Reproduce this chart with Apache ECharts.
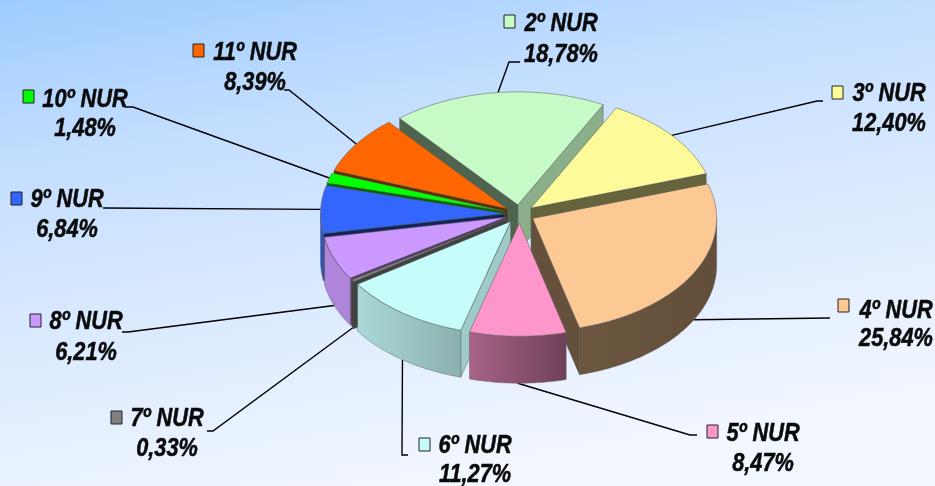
<!DOCTYPE html>
<html>
<head>
<meta charset="utf-8">
<title>NUR</title>
<style>
  html, body { margin: 0; padding: 0; }
  #div_chart { width: 935px; height: 486px; }
</style>
<script src="https://cdn.jsdelivr.net/npm/echarts@6/dist/echarts.min.js"></script>
</head>
<body>
<div id="div_chart"></div>
<script>
"use strict";

// data, clockwise from the first slice
const slice_names = ["2º NUR", "3º NUR", "4º NUR", "5º NUR", "6º NUR", "7º NUR", "8º NUR", "9º NUR", "10º NUR", "11º NUR"];
const slice_values = [18.78, 12.40, 25.84, 8.47, 11.27, 0.33, 6.21, 6.84, 1.48, 8.39];

// colours
const top_colors = ["#C6FAC6", "#FDFB99", "#FCC995", "#FF96CB", "#C6FCFA", "#808080", "#CC99FF", "#3366FF", "#00FF00", "#FF6600"];
const wall_start_shade = [0.4, 0.4, 0.4, 0.4, 0.8, 0.5, 0.4, 0.35, 0.4, 0.4];
const wall_end_shade = [0.7, 0.4, 0.4, 0.4, 0.4, 0.4, 0.4, 0.4, 0.4, 0.4];
const rim_left_shade = [0.7, 0.7, 0.43, 0.66, 0.86, 0.6, 0.86, 0.8, 0.7, 0.7];
const rim_right_shade = [0.7, 0.7, 0.39, 0.43, 0.7, 0.4, 0.86, 0.8, 0.7, 0.7];

// label layout: legend key corner, text centre, text line y, leader elbow
const key_x = [504, 832, 838, 707, 419, 111, 30, 11, 23, 193];
const key_y = [15, 86, 299, 425, 438, 411, 314, 192, 90, 44];
const text_x = [561, 889, 896, 763, 475, 167, 86, 67, 85, 255];
const text_y1 = [24, 94, 311, 434, 446, 419, 322, 200, 100, 53];
const text_y2 = [55, 124, 339, 464, 475, 449, 353, 230, 129, 83];
const elbow_a = [[520, 62], [823, 101], [830, 318], [697, 435], [408, 455], [207, 431], [122, 332], [103, 208], [125, 107], [284, 90]];
const elbow_b = [[509, 62], [817, 101], [830, 318], [690, 435], [402, 455], [213, 431], [128, 332], [103, 208], [133, 107], [289, 90]];

// pie geometry
const pie_cx = 519.5;
const pie_cy = 214;
const pie_rx = 184;
const pie_ry = 113;
const pie_depth = 47;
const pie_explode = 15;
const pie_start = -40; // degrees clockwise from 12 o'clock

const html_div_chart = document.getElementById("div_chart");
const chart = echarts.init(html_div_chart);

function shade(color, f) {
  const n = parseInt(color.slice(1), 16);
  const r = Math.round(((n >> 16) & 255) * f);
  const g = Math.round(((n >> 8) & 255) * f);
  const b = Math.round((n & 255) * f);
  return "rgb(" + r + "," + g + "," + b + ")";
}

const value_sum = slice_values.reduce((a, b) => a + b, 0);
const slices = [];
let angle_now = pie_start;
for (let i = 0; i < slice_values.length; i++) {
  const a0 = angle_now;
  const a1 = a0 + slice_values[i] / value_sum * 360;
  const mid = (a0 + a1) / 2 * Math.PI / 180;
  const k = pie_ry / pie_rx;
  slices.push({
    a0: a0,
    a1: a1,
    mid: (a0 + a1) / 2,
    ox: pie_cx + pie_explode * Math.sin(mid),
    oy: pie_cy - pie_explode * k * Math.cos(mid),
  });
  angle_now = a1;
}

function rim_point(s, deg, drop) {
  const r = deg * Math.PI / 180;
  return [s.ox + pie_rx * Math.sin(r), s.oy - pie_ry * Math.cos(r) + drop];
}

function arc_points(s, from, to, drop) {
  const pts = [];
  const steps = Math.max(2, Math.ceil(Math.abs(to - from)));
  for (let j = 0; j <= steps; j++) {
    pts.push(rim_point(s, from + (to - from) * j / steps, drop));
  }
  return pts;
}

function wall_polygon(s, deg, color) {
  const p = rim_point(s, deg, 0);
  return {
    type: "polygon",
    shape: { points: [[s.ox, s.oy], p, [p[0], p[1] + pie_depth], [s.ox, s.oy + pie_depth]] },
    style: { fill: color, stroke: "#444", lineWidth: 0.4 },
  };
}

// back slices first, so that the front ones paint over them
const draw_order = slices
  .map((s, i) => i)
  .sort((p, q) => Math.cos(slices[q].mid * Math.PI / 180) - Math.cos(slices[p].mid * Math.PI / 180));

function render_slice(params) {
  const i = draw_order[params.dataIndex];
  const s = slices[i];
  const color = top_colors[i];
  const children = [];

  // walls show only when they face the viewer
  const sin0 = Math.sin(s.a0 * Math.PI / 180);
  const sin1 = Math.sin(s.a1 * Math.PI / 180);
  if (sin0 < 0) children.push(wall_polygon(s, s.a0, shade(color, wall_start_shade[i])));
  if (sin1 > 0) children.push(wall_polygon(s, s.a1, shade(color, wall_end_shade[i])));

  const from = Math.max(s.a0, 90);
  const to = Math.min(s.a1, 270);
  if (to > from) {
    const upper = arc_points(s, from, to, 0);
    const lower = arc_points(s, to, from, pie_depth);
    const left = Math.min(...upper.map(p => p[0]));
    const right = Math.max(...upper.map(p => p[0]));
    children.push({
      type: "polygon",
      shape: { points: upper.concat(lower) },
      style: {
        fill: new echarts.graphic.LinearGradient(left, 0, right, 0, [
          { offset: 0, color: shade(color, rim_left_shade[i]) },
          { offset: 1, color: shade(color, rim_right_shade[i]) },
        ], true),
        stroke: "#555",
        lineWidth: 0.4,
      },
    });
  }

  children.push({
    type: "polygon",
    shape: { points: [[s.ox, s.oy]].concat(arc_points(s, s.a0, s.a1, 0)) },
    style: { fill: color, stroke: "#555", lineWidth: 0.5 },
  });
  return { type: "group", children: children };
}

function label_text(x, y, str) {
  return {
    type: "text",
    x: x,
    y: y,
    scaleX: 0.87,
    style: {
      text: str,
      fontFamily: "Liberation Sans",
      fontWeight: "bold",
      fontStyle: "italic",
      fontSize: 25,
      fill: "#0a0a0a",
      stroke: "#0a0a0a",
      lineWidth: 0.5,
      align: "center",
      verticalAlign: "middle",
    },
  };
}

function render_label(params) {
  const i = params.dataIndex;
  const s = slices[i];
  // the leader ends on the rim, at the bottom edge for the front half
  const m = ((s.mid % 360) + 360) % 360;
  const end = rim_point(s, s.mid, (m > 90 && m < 270) ? pie_depth : 0);
  return {
    type: "group",
    children: [
      {
        type: "polyline",
        shape: { points: [elbow_a[i], elbow_b[i], end] },
        style: { fill: "none", stroke: "#000", lineWidth: 1.4 },
      },
      {
        type: "rect",
        shape: { x: key_x[i], y: key_y[i], width: 11, height: 13 },
        style: { fill: top_colors[i], stroke: "#222", lineWidth: 1 },
      },
      label_text(text_x[i], text_y1[i], slice_names[i]),
      label_text(text_x[i], text_y2[i], slice_values[i].toFixed(2).replace(".", ",") + "%"),
    ],
  };
}

chart.setOption({
  animation: false,
  backgroundColor: new echarts.graphic.LinearGradient(0, 0, 0.1, 1.1, [
    { offset: 0, color: "#9FCCFF" },
    { offset: 0.3, color: "#C3DEFF" },
    { offset: 0.6, color: "#D9E9FF" },
    { offset: 1, color: "#F1F6FF" },
  ]),
  series: [
    {
      type: "custom",
      coordinateSystem: "none",
      silent: true,
      z: 1,
      data: slice_names.map((n, i) => i),
      renderItem: render_label,
    },
    {
      type: "custom",
      coordinateSystem: "none",
      silent: true,
      z: 2,
      data: draw_order.map((n, i) => i),
      renderItem: render_slice,
    },
  ],
});
</script>
</body>
</html>
